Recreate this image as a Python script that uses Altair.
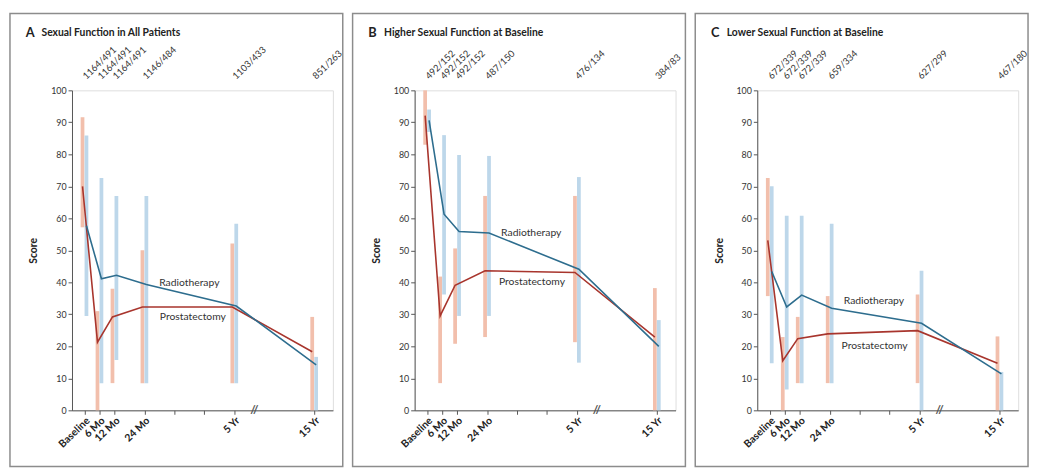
import altair as alt
import pandas as pd

# ---------------- data ----------------
times = [0, 6, 12, 24, 60, 92]          # 15 Yr drawn after the axis break
tick_values = [0, 6, 12, 24, 36, 48, 60, 92]
tick_labels = ["Baseline", "6 Mo", "12 Mo", "24 Mo", "", "", "5 Yr", "15 Yr"]
break_x = 68

panel_letters = ["A", "B", "C"]
panel_titles = ["Sexual Function in All Patients",
                "Higher Sexual Function at Baseline",
                "Lower Sexual Function at Baseline"]

counts_A = ["1164/491", "1164/491", "1164/491", "1146/484", "1103/433", "851/263"]
counts_B = ["492/152", "492/152", "492/152", "487/150", "476/134", "384/83"]
counts_C = ["672/339", "672/339", "672/339", "659/334", "627/299", "467/180"]

# Radiotherapy
A_rad_med = [57.7, 41.1, 42.2, 39.3, 32.6, 14.2]
A_rad_lo = [29.5, 8.5, 15.7, 8.5, 8.5, 0]
A_rad_hi = [85.9, 72.6, 67.0, 67.0, 58.3, 16.7]
# Prostatectomy
A_pro_med = [70.0, 21.3, 29.2, 32.3, 32.3, 18.3]
A_pro_lo = [57.2, 0, 8.5, 8.5, 8.5, 0]
A_pro_hi = [91.6, 31.0, 38.0, 50.0, 52.1, 29.2]

B_rad_med = [90.6, 61.3, 55.9, 55.4, 44.1, 20.0]
B_rad_lo = [87.0, 36.2, 29.5, 29.5, 14.9, 0]
B_rad_hi = [94.0, 86.0, 79.8, 79.5, 72.9, 28.2]
B_pro_med = [92.1, 29.5, 39.1, 43.6, 43.1, 22.9]
B_pro_lo = [83.0, 8.5, 20.8, 22.9, 21.3, 0]
B_pro_hi = [100.0, 41.8, 50.6, 67.0, 67.0, 38.2]

C_rad_med = [43.4, 32.3, 36.0, 31.9, 27.2, 11.4]
C_rad_lo = [14.7, 6.5, 8.5, 8.5, 0, 0]
C_rad_hi = [70.0, 60.8, 60.8, 58.3, 43.6, 12.0]
C_pro_med = [53.1, 15.5, 22.4, 23.9, 24.9, 14.7]
C_pro_lo = [35.7, 0, 8.5, 8.5, 8.5, 0]
C_pro_hi = [72.6, 22.9, 29.2, 35.7, 36.2, 23.1]

series_names = ["Radiotherapy", "Prostatectomy"]
A_label_x = [42.0, 43.4]
A_label_y = [39.8, 29.0]
B_label_x = [41.7, 42.0]
B_label_y = [55.5, 40.0]
C_label_x = [41.7, 42.0]
C_label_y = [34.2, 20.1]

# ---------------- style ----------------
W, H = 265, 325
FONT = "Lato"
RAD_LINE = "#2d6d8e"
PRO_LINE = "#a8352d"
RAD_BAR = "#bdd7ea"
PRO_BAR = "#f2bfac"
TEXT = "#333333"

label_expr = ""
for v, l in zip(tick_values, tick_labels):
    label_expr += f"datum.value == {v} ? '{l}' : "
label_expr += "''"

xscale = alt.Scale(domain=[-5, 99.5], nice=False, zero=False)
yscale = alt.Scale(domain=[0, 100], nice=False)
xaxis = alt.Axis(values=tick_values, labelExpr=label_expr, title=None, labelAngle=-44,
                 labelFontWeight="bold", labelFontSize=10.5, labelFont=FONT,
                 labelColor="#222", tickSize=4, grid=False, domainColor="#555",
                 tickColor="#555", labelPadding=1, labelOverlap=False, labelFlush=False,
                 labelBound=False)
yaxis = alt.Axis(values=list(range(0, 101, 10)), title="Score", titleFontWeight="bold",
                 titleFontSize=10.5, titleFont=FONT, titleColor="#222", labelFontSize=9,
                 labelFont=FONT, labelColor=TEXT, tickSize=4, grid=False,
                 domainColor="#555", tickColor="#555", titlePadding=12, labelPadding=2,
                 labelOverlap=False)


def X(field):
    return alt.X(f"{field}:Q", scale=xscale, axis=xaxis)


def Y(field):
    return alt.Y(f"{field}:Q", scale=yscale, axis=yaxis)


def panel(letter, title, counts, rmed, rlo, rhi, pmed, plo, phi, lx, ly):
    rad = pd.DataFrame({"time": times, "med": rmed, "lo": rlo, "hi": rhi})
    pro = pd.DataFrame({"time": times, "med": pmed, "lo": plo, "hi": phi})
    cnt = pd.DataFrame({"time": times, "n": counts})
    lab = pd.DataFrame({"lx": lx, "ly": ly, "name": series_names})
    brk = pd.DataFrame({"bx": [break_x], "by": [0], "s": ["//"]})
    one = pd.DataFrame({"a": [0]})
    ttl = pd.DataFrame({"letter": [letter], "title": [title]})

    frame = alt.Chart(one).mark_rect(filled=False, stroke="#8c8c8c", strokeWidth=1.5).encode(
        x=alt.value(-63), x2=alt.value(W + 10), y=alt.value(-78), y2=alt.value(H + 57))

    pro_bars = alt.Chart(pro).mark_rule(color=PRO_BAR, strokeWidth=3.8, xOffset=-2,
                                        strokeCap="butt").encode(x=X("time"), y=Y("lo"), y2="hi")
    rad_bars = alt.Chart(rad).mark_rule(color=RAD_BAR, strokeWidth=3.8, xOffset=2,
                                        strokeCap="butt").encode(x=X("time"), y=Y("lo"), y2="hi")
    pro_line = alt.Chart(pro).mark_line(color=PRO_LINE, strokeWidth=1.6, xOffset=-2).encode(
        x=X("time"), y=Y("med"))
    rad_line = alt.Chart(rad).mark_line(color=RAD_LINE, strokeWidth=1.6, xOffset=2).encode(
        x=X("time"), y=Y("med"))

    cnt_text = alt.Chart(cnt).mark_text(angle=316, align="left", baseline="middle",
                                        fontSize=9.5, font=FONT, color=TEXT).encode(
        x=X("time"), y=alt.value(-13), text="n:N")

    lab_text = alt.Chart(lab).mark_text(align="center", baseline="middle", fontSize=10.5,
                                        font=FONT, color=TEXT).encode(
        x=X("lx"), y=Y("ly"), text="name:N")

    brk_text = alt.Chart(brk).mark_text(align="center", baseline="middle", fontSize=12,
                                        font=FONT, color="#555", fontWeight="bold").encode(
        x=X("bx"), y=Y("by"), text="s:N")

    letter_text = alt.Chart(ttl).mark_text(align="left", baseline="middle", fontSize=13,
                                           fontWeight="bold", font=FONT, color="#222").encode(
        x=alt.value(-47), y=alt.value(-58), text="letter:N")
    title_text = alt.Chart(ttl).mark_text(align="left", baseline="middle", fontSize=10.5,
                                          fontWeight="bold", font=FONT, color="#222").encode(
        x=alt.value(-31), y=alt.value(-58), text="title:N")

    return alt.layer(frame, pro_bars, rad_bars, pro_line, rad_line, cnt_text, lab_text,
                     brk_text, letter_text, title_text).properties(width=W, height=H)


pA = panel("A", panel_titles[0], counts_A, A_rad_med, A_rad_lo, A_rad_hi,
           A_pro_med, A_pro_lo, A_pro_hi, A_label_x, A_label_y)
pB = panel("B", panel_titles[1], counts_B, B_rad_med, B_rad_lo, B_rad_hi,
           B_pro_med, B_pro_lo, B_pro_hi, B_label_x, B_label_y)
pC = panel("C", panel_titles[2], counts_C, C_rad_med, C_rad_lo, C_rad_hi,
           C_pro_med, C_pro_lo, C_pro_hi, C_label_x, C_label_y)

chart = alt.hconcat(pA, pB, pC, spacing=6).properties(padding=0).configure_view(
    strokeWidth=0).configure(background="white")

chart.save("out.html", embed_options={"renderer": "svg", "actions": False})
